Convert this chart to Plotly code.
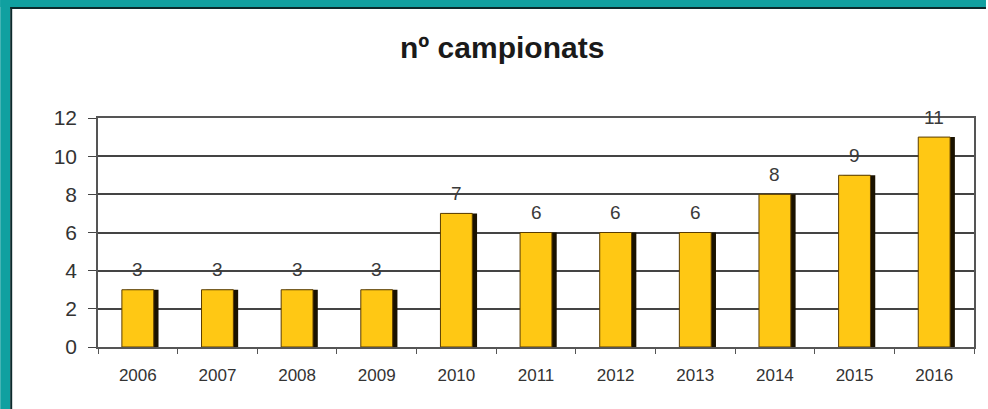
import plotly.graph_objects as go

years = ["2006", "2007", "2008", "2009", "2010", "2011", "2012", "2013", "2014", "2015", "2016"]
campionats = [3, 3, 3, 3, 7, 6, 6, 6, 8, 9, 11]
y_ticks = [0, 2, 4, 6, 8, 10, 12]
title_text = "nº campionats"

W, H = 988, 409
L, R, T, B = 98, 12, 118, 62
pw, ph = W - L - R, H - T - B

def px_x(p):
    return (p - L) / pw

def px_y(p):
    return (H - B - p) / ph

fig = go.Figure()

# shadow bars (3D effect)
fig.add_trace(go.Bar(
    x=years, y=campionats, width=0.40, offset=-0.20 + 0.06,
    marker=dict(color="#1a1200", line=dict(width=0)),
    hoverinfo="skip", showlegend=False,
))
# face bars
fig.add_trace(go.Bar(
    x=years, y=campionats, width=0.40, offset=-0.20,
    marker=dict(color="#FFC814", line=dict(color="#5a3c00", width=1)),
    showlegend=False,
))

annotations = [
    dict(x=i, y=v, xref="x", yref="y", text=str(v), showarrow=False, yshift=20,
         xanchor="center", yanchor="middle",
         font=dict(family="Liberation Sans, Arial", size=19, color="#3a3a3a"))
    for i, v in enumerate(campionats)
]
annotations.append(dict(
    x=px_x(503), y=px_y(48), xref="paper", yref="paper", text="<b>" + title_text + "</b>",
    xanchor="center", yanchor="middle",
    showarrow=False, font=dict(family="Liberation Sans, Arial", size=30, color="#1a1a1a"),
))

shapes = [
    dict(type="rect", xref="paper", yref="paper", x0=px_x(0), x1=px_x(10), y0=px_y(H), y1=px_y(0),
         fillcolor="#10A0A0", line=dict(width=0), layer="below"),
    dict(type="rect", xref="paper", yref="paper", x0=px_x(0), x1=px_x(W), y0=px_y(7), y1=px_y(0),
         fillcolor="#10A0A0", line=dict(width=0), layer="below"),
    dict(type="rect", xref="paper", yref="paper", x0=px_x(10), x1=px_x(12), y0=px_y(H), y1=px_y(7),
         fillcolor="#0b2a2c", line=dict(width=0), layer="below"),
    dict(type="rect", xref="paper", yref="paper", x0=px_x(10), x1=px_x(W), y0=px_y(9), y1=px_y(7),
         fillcolor="#0b2a2c", line=dict(width=0), layer="below"),
]

fig.update_layout(
    width=W, height=H,
    margin=dict(l=L, r=R, t=T, b=B),
    paper_bgcolor="white", plot_bgcolor="white",
    barmode="overlay",
    annotations=annotations, shapes=shapes,
    font=dict(family="Liberation Sans, Arial", color="#333333"),
    xaxis=dict(
        type="category", range=[-0.5, len(years) - 0.5], autorange=False,
        tickson="boundaries", ticks="outside", ticklen=5,
        tickcolor="#555555", showline=True, linecolor="#555555", linewidth=1.5,
        mirror=True, showgrid=False, tickangle=0, ticklabelstandoff=12,
        tickfont=dict(size=17, color="#333333"),
    ),
    yaxis=dict(
        range=[0, 12], autorange=False, tickvals=y_ticks, ticks="outside", ticklen=8,
        tickcolor="#444444", showline=True, linecolor="#555555", linewidth=1.5,
        mirror=True, showgrid=True, gridcolor="#444444", gridwidth=1.5,
        zeroline=False, ticklabelstandoff=7, tickfont=dict(size=21, color="#333333"),
    ),
)

fig.write_html(
    "out.html",
    config={"displayModeBar": False},
    post_script="document.body.style.margin='0';document.body.style.overflow='hidden';",
)
